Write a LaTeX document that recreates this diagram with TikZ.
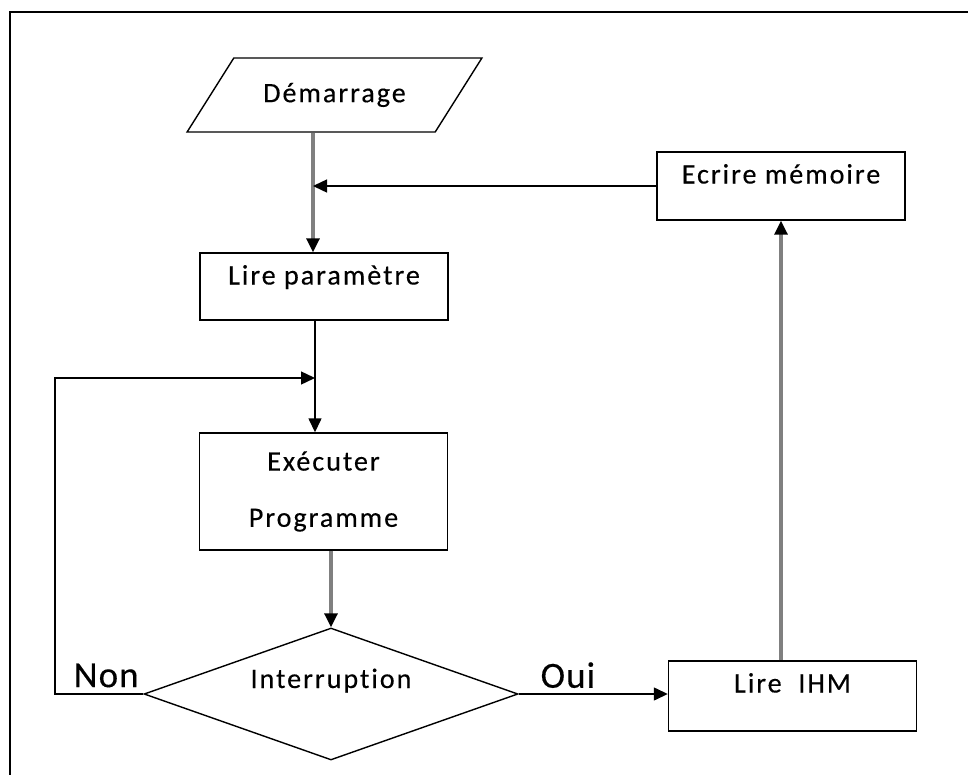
\documentclass[tikz,border=0pt]{standalone}
\usepackage{fontspec}
\setmainfont{Carlito}[LetterSpace=7, FakeBold=0.3, Ligatures=NoCommon]
\usetikzlibrary{arrows.meta,shapes.geometric}

\begin{document}
\begin{tikzpicture}[font=\fontsize{16}{19}\selectfont, line width=0.8pt,
  >={Triangle[length=2.8mm,width=2.6mm]},
  box/.style={draw, rectangle, minimum width=4.96cm, inner ysep=0pt},
  toprow/.style={text height=0.63cm, text depth=#1},
  grayline/.style={draw=black!50, line width=1.8pt, -{Triangle[length=2.8mm,width=2.6mm,black]}},
  answer/.style={font=\fontsize{21}{25}\selectfont\addfontfeature{LetterSpace=3}}]
  \useasboundingbox (0,0) rectangle (19.36,-15.5);
  \draw[line width=1.1pt] (19.36,-0.24) -| (0.2,-15.5);

  \node[draw, trapezium, trapezium left angle=45, trapezium right angle=135,
        trapezium stretches=true, minimum width=5.9cm, minimum height=1.48cm] (dem) at (6.69,-1.90) {Démarrage};
  \node[box, toprow=0.71cm] (lirep) at (6.48,-5.73) {Lire paramètre};
  \node[box, toprow=0.73cm] (ecrire) at (15.62,-3.72) {Ecrire mémoire};
  \node[box, minimum height=2.34cm, align=center] (exec) at (6.47,-9.83) {Exécuter\\[13pt]Programme};
  \node[draw, diamond, aspect=2.8, minimum width=7.48cm, minimum height=2.64cm, inner sep=0pt,
        text height=0.3cm, text depth=0.54cm] (inter) at (6.62,-13.88) {Interruption};
  \node[box, toprow=0.77cm] (lireihm) at (15.85,-13.92) {Lire\ \ IHM};

  \coordinate (j1) at (6.26,-3.72);
  \coordinate (j2) at (6.30,-7.56);
  \coordinate (loop) at (1.10,-7.56);

  \draw[grayline] (dem.south -| j1) -- (lirep.north -| j1);
  \draw[->] (ecrire.west) -- (j1);
  \draw[->] (lirep.south -| j2) -- (exec.north -| j2);
  \draw[->] (inter.west) -| node[answer, pos=0.21, above]{Non} (loop) -- (j2);
  \draw[grayline] (exec.south -| inter.north) -- (inter.north);
  \draw[->] (inter.east) -- node[answer, pos=0.33, above, inner ysep=3pt]{Oui} (inter.east -| lireihm.west);
  \draw[grayline] (lireihm.north -| ecrire.south) -- (ecrire.south);
\end{tikzpicture}
\end{document}
